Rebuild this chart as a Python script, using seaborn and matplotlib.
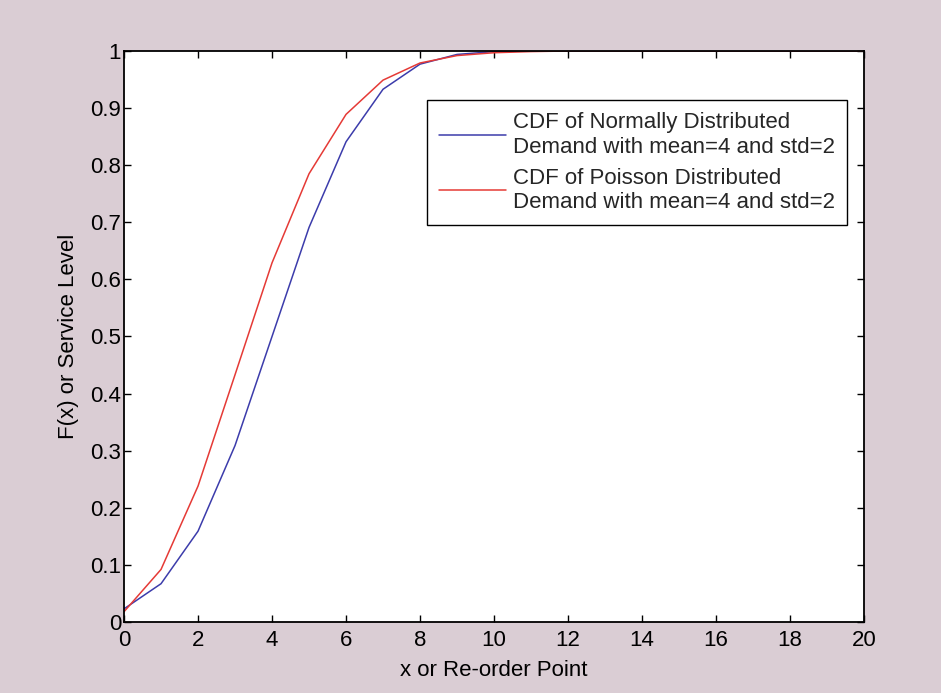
import matplotlib
matplotlib.use("Agg")
import matplotlib.pyplot as plt
import seaborn as sns
import pandas as pd

# Re-order point values
x_points = list(range(0, 21))

# CDF of normally distributed demand (mean=4, std=2)
normal_cdf = [0.023, 0.067, 0.159, 0.309, 0.500, 0.691, 0.841, 0.933, 0.977, 0.994,
              0.999, 1.000, 1.000, 1.000, 1.000, 1.000, 1.000, 1.000, 1.000, 1.000, 1.000]

# CDF of Poisson distributed demand (mean=4)
poisson_cdf = [0.018, 0.092, 0.238, 0.433, 0.629, 0.785, 0.889, 0.949, 0.979, 0.992,
               0.997, 0.999, 1.000, 1.000, 1.000, 1.000, 1.000, 1.000, 1.000, 1.000, 1.000]

series_labels = ["CDF of Normally Distributed\nDemand with mean=4 and std=2",
                 "CDF of Poisson Distributed\nDemand with mean=4 and std=2"]
series_colors = ["#3c3cab", "#e53a36"]

x_ticks = list(range(0, 21, 2))
y_ticks = [i / 10 for i in range(0, 11)]
y_tick_labels = ["0", "0.1", "0.2", "0.3", "0.4", "0.5", "0.6", "0.7", "0.8", "0.9", "1"]

df = pd.DataFrame({
    "x": x_points * 2,
    "F": normal_cdf + poisson_cdf,
    "series": [series_labels[0]] * len(x_points) + [series_labels[1]] * len(x_points),
})

sns.set_theme(style="white")
plt.rcParams["font.family"] = ["Liberation Sans", "DejaVu Sans"]

FS = 16
bg = "#dacdd4"
fig = plt.figure(figsize=(9.41, 6.93), dpi=100, facecolor=bg)
ax = fig.add_axes([0.1318, 0.1025, 0.7864, 0.8239])
ax.set_facecolor("white")

sns.lineplot(data=df, x="x", y="F", hue="series", palette=series_colors,
             hue_order=series_labels, linewidth=1.1, ax=ax, legend=True)

ax.set_xlim(0, 20)
ax.set_ylim(0, 1)
ax.set_xticks(x_ticks)
ax.set_xticklabels([str(t) for t in x_ticks])
ax.set_yticks(y_ticks)
ax.set_yticklabels(y_tick_labels)

ax.tick_params(direction="in", length=5, width=1.0, top=True, right=True,
               bottom=True, left=True, labelsize=FS, colors="black")
ax.tick_params(axis="x", pad=6)
ax.tick_params(axis="y", pad=2)
for s in ax.spines.values():
    s.set_visible(True)
    s.set_color("black")
    s.set_linewidth(1.3)

ax.set_xlabel("x or Re-order Point", fontsize=FS, color="black", labelpad=6)
ax.set_ylabel("F(x) or Service Level", fontsize=FS, color="black", labelpad=8)

leg = ax.legend(loc="upper right", bbox_to_anchor=(0.977, 0.914), fontsize=FS,
                frameon=True, fancybox=False, edgecolor="black", framealpha=1,
                handlelength=3.0, handletextpad=0.3, borderpad=0.55, labelspacing=0.45,
                borderaxespad=0)
leg.get_frame().set_linewidth(1.0)

fig.savefig("out.png", dpi=100, facecolor=bg)
